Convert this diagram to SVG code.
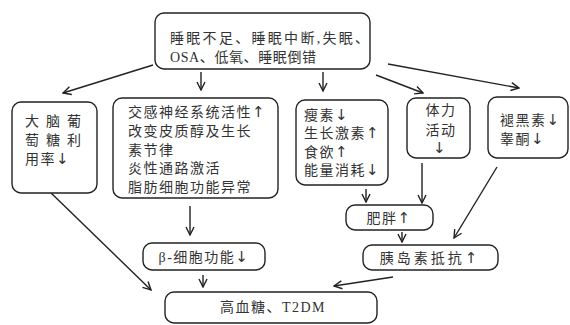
<svg xmlns="http://www.w3.org/2000/svg" width="570" height="325" viewBox="0 0 570 325">
<style>
.box{fill:#fff;stroke:#222;stroke-width:1.4}
text{font-family:"Liberation Serif","Noto Sans CJK SC",serif;font-size:14px;fill:#333;letter-spacing:1.5px}
.c{text-anchor:middle}
.ar{font-family:"DejaVu Sans",sans-serif;font-size:15px}
.edge{stroke:#222;stroke-width:1.4;fill:none;marker-end:url(#ah)}
</style>
<defs>
<marker id="ah" viewBox="0 0 10 10" refX="9" refY="5" markerWidth="10" markerHeight="10" markerUnits="userSpaceOnUse" orient="auto">
<path d="M1,1 L9,5 L1,9" fill="none" stroke="#222" stroke-width="1.4"/>
</marker>
</defs>
<rect width="570" height="325" fill="#fff"/>
<g id="edges">
<line class="edge" x1="153" y1="65" x2="63" y2="93"/>
<line class="edge" x1="201" y1="72" x2="201" y2="90"/>
<line class="edge" x1="323" y1="72" x2="323" y2="91"/>
<line class="edge" x1="376" y1="75" x2="423" y2="93"/>
<line class="edge" x1="388" y1="64" x2="519" y2="88"/>
<line class="edge" x1="48" y1="190" x2="151" y2="290"/>
<line class="edge" x1="190" y1="206" x2="190" y2="235"/>
<line class="edge" x1="203" y1="275" x2="203" y2="287"/>
<line class="edge" x1="366" y1="189" x2="366" y2="202"/>
<line class="edge" x1="422" y1="163" x2="422" y2="203"/>
<line class="edge" x1="497" y1="167" x2="454" y2="238"/>
<line class="edge" x1="402" y1="232" x2="402" y2="242"/>
<line class="edge" x1="393" y1="277" x2="334" y2="286"/>
</g>
<g id="n-top">
<rect class="box" x="155" y="13" width="215" height="56" rx="9"/>
<text x="170" y="43" style="letter-spacing:2.3px">睡眠不足、睡眠中断,失眠、</text>
<text x="170" y="62" style="letter-spacing:0.6px">OSA、低氧、睡眠倒错</text>
</g>
<g id="n-brain">
<rect class="box" x="12" y="102" width="85" height="91" rx="9"/>
<text x="25" y="126" style="letter-spacing:7px">大脑葡</text>
<text x="25" y="145" style="letter-spacing:7px">萄糖利</text>
<text x="25" y="164">用率<tspan class="ar">↓</tspan></text>
</g>
<g id="n-symp">
<rect class="box" x="113" y="98" width="165" height="100" rx="9"/>
<text x="128" y="117">交感神经系统活性<tspan class="ar">↑</tspan></text>
<text x="128" y="136">改变皮质醇及生长</text>
<text x="128" y="155">素节律</text>
<text x="128" y="173">炎性通路激活</text>
<text x="128" y="192">脂肪细胞功能异常</text>
</g>
<g id="n-leptin">
<rect class="box" x="296" y="100" width="92" height="85" rx="9"/>
<text x="304" y="120">瘦素<tspan class="ar">↓</tspan></text>
<text x="304" y="138">生长激素<tspan class="ar">↑</tspan></text>
<text x="304" y="157">食欲<tspan class="ar">↑</tspan></text>
<text x="304" y="175">能量消耗<tspan class="ar">↓</tspan></text>
</g>
<g id="n-activity">
<rect class="box" x="407" y="98" width="63" height="60" rx="9"/>
<text class="c" x="441" y="115">体力</text>
<text class="c" x="441" y="135">活动</text>
<text class="c ar" x="440" y="153">↓</text>
</g>
<g id="n-melatonin">
<rect class="box" x="488" y="97" width="80" height="61" rx="9"/>
<text x="500" y="125">褪黑素<tspan class="ar">↓</tspan></text>
<text x="500" y="144">睾酮<tspan class="ar">↓</tspan></text>
</g>
<g id="n-obesity">
<rect class="box" x="346" y="205" width="87" height="25" rx="9"/>
<text class="c" x="389" y="223">肥胖<tspan class="ar">↑</tspan></text>
</g>
<g id="n-beta">
<rect class="box" x="143" y="243" width="122" height="27" rx="9"/>
<text class="c" x="204" y="262">β-细胞功能<tspan class="ar">↓</tspan></text>
</g>
<g id="n-ir">
<rect class="box" x="363" y="245" width="135" height="25" rx="9"/>
<text class="c" x="430" y="263" style="letter-spacing:3px">胰岛素抵抗<tspan class="ar">↑</tspan></text>
</g>
<g id="n-t2dm">
<rect class="box" x="165" y="292" width="212" height="31" rx="9"/>
<text class="c" x="273" y="312">高血糖、T2DM</text>
</g>
</svg>
